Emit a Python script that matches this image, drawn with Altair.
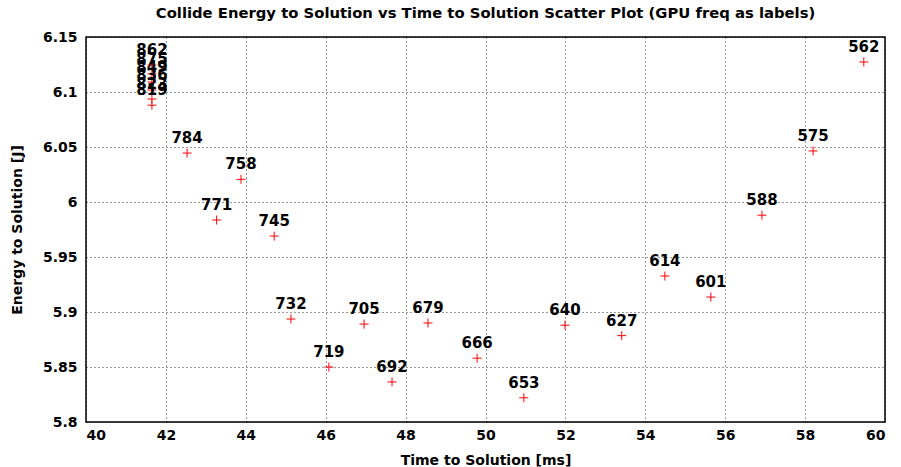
import altair as alt
import pandas as pd

# GPU core frequency (MHz) used as the point label
freq = [862, 875, 849, 836, 823, 819,
        784, 771, 758, 745, 732, 719, 705, 692, 679, 666, 653,
        640, 627, 614, 601, 588, 575, 562]

# Time to solution in milliseconds
time_ms = [41.65, 41.65, 41.65, 41.65, 41.65, 41.65,
           42.53, 43.27, 43.88, 44.71, 45.13, 46.08, 46.96, 47.66, 48.56, 49.79, 50.96,
           51.99, 53.41, 54.49, 55.64, 56.92, 58.20, 59.47]

# Energy to solution in joules
energy_j = [6.1245, 6.1165, 6.1090, 6.1018, 6.0936, 6.0880,
            6.0445, 5.9836, 6.0206, 5.9690, 5.8936, 5.8500, 5.8890, 5.8364, 5.8900, 5.8580, 5.8220,
            5.8880, 5.8785, 5.9327, 5.9136, 5.9880, 6.0464, 6.1273]

x_ticks = [40, 42, 44, 46, 48, 50, 52, 54, 56, 58, 60]
y_ticks = [5.8, 5.85, 5.9, 5.95, 6.0, 6.05, 6.1, 6.15]

df = pd.DataFrame({"freq": freq, "time": time_ms, "energy": energy_j})

FONT = "DejaVu Sans"

x_enc = alt.X(
    "time:Q",
    scale=alt.Scale(domain=[40, 60], nice=False, zero=False),
    axis=alt.Axis(
        title="Time to Solution [ms]",
        values=x_ticks,
        format="d",
        ticks=False,
        domain=False,
        labelPadding=6,
        titlePadding=11,
    ),
)
y_enc = alt.Y(
    "energy:Q",
    scale=alt.Scale(domain=[5.8, 6.15], nice=False, zero=False),
    axis=alt.Axis(
        title="Energy to Solution [J]",
        values=y_ticks,
        format="~g",
        ticks=False,
        domain=False,
        labelPadding=9,
        titlePadding=18,
    ),
)

base = alt.Chart(df).encode(x=x_enc, y=y_enc)

points = base.mark_point(
    shape="M-1,0L1,0M0,-1L0,1",
    size=81,
    filled=False,
    stroke="#ff0000",
    strokeWidth=1,
    opacity=1,
)

labels = base.mark_text(
    dy=-15,
    font=FONT,
    fontSize=15,
    fontWeight="bold",
    color="black",
    align="center",
    baseline="middle",
).encode(text="freq:N")

chart = (
    alt.layer(points, labels)
    .properties(
        width=799,
        height=385,
        background="white",
        title=alt.TitleParams(
            "Collide Energy to Solution vs Time to Solution Scatter Plot (GPU freq as labels)",
            font=FONT,
            fontSize=14.8,
            fontWeight="bold",
            color="black",
            anchor="middle",
            offset=9,
        ),
        autosize=alt.AutoSizeParams(type="none"),
        padding={"left": 86, "top": 37, "right": 16, "bottom": 45},
    )
    .configure_view(stroke="black", strokeWidth=1.5)
    .configure_axis(
        labelFont=FONT,
        labelFontSize=14,
        labelFontWeight="bold",
        labelColor="black",
        titleFont=FONT,
        titleFontSize=14,
        titleFontWeight="bold",
        titleColor="black",
        grid=True,
        gridColor="black",
        gridDash=[1, 3],
        gridOpacity=0.8,
        gridWidth=1,
    )
)

chart.save("out.html", embed_options={"renderer": "svg", "actions": False})
